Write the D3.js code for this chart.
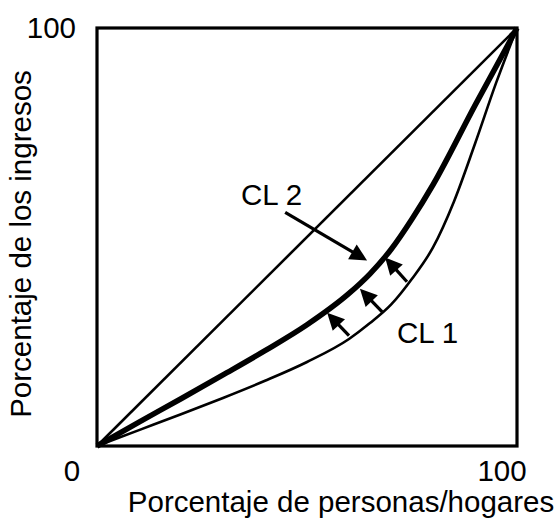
<!DOCTYPE html>
<html>
<head>
<meta charset="utf-8">
<script src="https://cdn.jsdelivr.net/npm/d3@7"></script>
<style>
  body { margin: 0; background: #fff; }
  text { font-family: "Liberation Sans", Arial, sans-serif; fill: #000; }
</style>
</head>
<body>
<svg id="chart" width="557" height="527"></svg>
<script>
// Lorenz curves (x = % people, y = % income)
const cl1X = [0, 10, 20, 30, 40, 50, 60, 65, 70, 75, 80, 85, 90, 95, 100];
const cl1Y = [0, 3.8, 7.6, 11.5, 15.6, 20.1, 25.6, 29.4, 33.8, 40, 47.5, 58.5, 72.3, 86.8, 100];
const cl2X = [0, 10, 20, 30, 40, 50, 60, 65, 70, 75, 80, 90, 100];
const cl2Y = [0, 5.7, 11.3, 17.0, 22.8, 29.0, 36.5, 41.2, 47, 54.3, 62.5, 81.5, 100];
const equality = [0, 100];
const tickLabels = ["0", "100"];

// arrows [tailX, tailY, tipX, tipY] in data units
const shiftArrows = [
  [73.8, 39.3, 68.6, 45.1],
  [67.9, 32.1, 62.6, 37.6],
  [60.0, 26.4, 54.8, 31.9]
];
const labelArrow = [44.8, 55.9, 64.3, 44.4];
const curveLabels = [
  { text: "CL 2", x: 34.3, y: 57.6 },
  { text: "CL 1", x: 71.4, y: 24.7 }
];

const svg = d3.select("#chart");
const fs = 29.5;

const x = d3.scaleLinear().domain([0, 100]).range([97, 517]);
const y = d3.scaleLinear().domain([0, 100]).range([446, 28]);

const line = d3.line()
  .x(d => x(d[0]))
  .y(d => y(d[1]))
  .curve(d3.curveMonotoneX);

// equality line
svg.append("line")
  .attr("x1", x(equality[0])).attr("y1", y(equality[0]))
  .attr("x2", x(equality[1])).attr("y2", y(equality[1]))
  .attr("stroke", "#000").attr("stroke-width", 2.6);

// CL 1 thin
svg.append("path")
  .attr("d", line(cl1X.map((v, i) => [v, cl1Y[i]])))
  .attr("fill", "none").attr("stroke", "#000").attr("stroke-width", 2.6);

// CL 2 thick
svg.append("path")
  .attr("d", line(cl2X.map((v, i) => [v, cl2Y[i]])))
  .attr("fill", "none").attr("stroke", "#000").attr("stroke-width", 5.5);

// box
svg.append("rect")
  .attr("x", x(0)).attr("y", y(100))
  .attr("width", x(100) - x(0)).attr("height", y(0) - y(100))
  .attr("fill", "none").attr("stroke", "#000").attr("stroke-width", 3.2);

function arrow(a) {
  const x1 = x(a[0]), y1 = y(a[1]), x2 = x(a[2]), y2 = y(a[3]);
  const ang = Math.atan2(y2 - y1, x2 - x1);
  const len = 17, half = 8.5;
  const bx = x2 - len * Math.cos(ang), by = y2 - len * Math.sin(ang);
  svg.append("line")
    .attr("x1", x1).attr("y1", y1)
    .attr("x2", bx + 2 * Math.cos(ang)).attr("y2", by + 2 * Math.sin(ang))
    .attr("stroke", "#000").attr("stroke-width", 3.2);
  const px = -Math.sin(ang), py = Math.cos(ang);
  svg.append("path")
    .attr("d", `M${x2},${y2} L${bx + half * px},${by + half * py} L${bx - half * px},${by - half * py} Z`)
    .attr("fill", "#000");
}

shiftArrows.forEach(arrow);
arrow(labelArrow);

svg.selectAll(".cl-label")
  .data(curveLabels).enter()
  .append("text")
  .attr("class", "cl-label")
  .attr("x", d => x(d.x)).attr("y", d => y(d.y))
  .attr("font-size", fs)
  .text(d => d.text);

// corner tick labels
svg.append("text")
  .attr("x", x(0) - 25).attr("y", 481)
  .attr("text-anchor", "middle").attr("font-size", fs)
  .text(tickLabels[0]);
svg.append("text")
  .attr("x", x(100) - 15).attr("y", 481)
  .attr("text-anchor", "middle").attr("font-size", fs)
  .text(tickLabels[1]);
svg.append("text")
  .attr("x", x(0) - 21).attr("y", y(100) + 10)
  .attr("text-anchor", "end").attr("font-size", fs)
  .text(tickLabels[1]);

// axis titles
svg.append("text")
  .attr("x", 341).attr("y", 512)
  .attr("text-anchor", "middle").attr("font-size", fs)
  .text("Porcentaje de personas/hogares");
svg.append("text")
  .attr("transform", "translate(31,244) rotate(-90)")
  .attr("text-anchor", "middle").attr("font-size", fs)
  .text("Porcentaje de los ingresos");
</script>
</body>
</html>
